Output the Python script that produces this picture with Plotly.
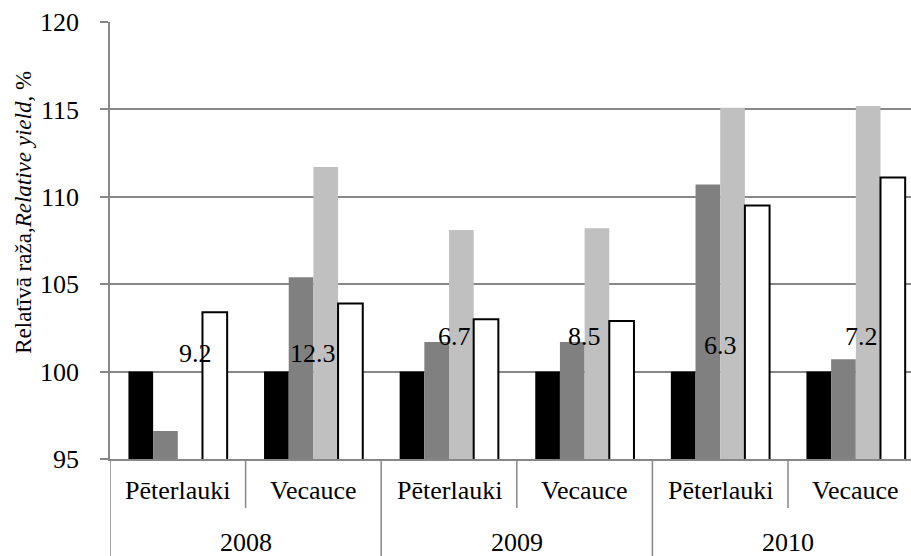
import plotly.graph_objects as go

# ---- data ----
sites = ["Pēterlauki", "Vecauce", "Pēterlauki", "Vecauce", "Pēterlauki", "Vecauce"]
years = ["2008", "2009", "2010"]
black_vals = [100, 100, 100, 100, 100, 100]
dark_vals = [96.6, 105.4, 101.7, 101.7, 110.7, 100.7]
light_vals = [None, 111.7, 108.1, 108.2, 115.1, 115.2]
white_vals = [103.4, 103.9, 103.0, 102.9, 109.5, 111.1]
lsd_labels = ["9.2", "12.3", "6.7", "8.5", "6.3", "7.2"]
y_ticks = [95, 100, 105, 110, 115, 120]

FONT = "Liberation Serif"
GRID = "#878787"

x = list(range(len(sites)))

fig = go.Figure()
fig.add_bar(x=x, y=black_vals, marker=dict(color="#000000", line=dict(width=0)))
fig.add_bar(x=x, y=dark_vals, marker=dict(color="#808080", line=dict(width=0)))
fig.add_bar(x=x, y=light_vals, marker=dict(color="#C0C0C0", line=dict(width=0)))
fig.add_bar(x=x, y=white_vals, marker=dict(color="#FFFFFF", line=dict(color="#000000", width=2)))

# label placement (layout only)
lbl_dx = [0.13, 0.0, 0.04, 0.0, 0.0, 0.04]
lbl_y = [101.05, 101.05, 102.0, 102.0, 101.5, 102.0]
annotations = []
for i, t in enumerate(lsd_labels):
    annotations.append(dict(x=x[i] + lbl_dx[i], y=lbl_y[i], xref="x", yref="y", text=t,
                            showarrow=False, font=dict(family=FONT, size=26, color="#000"),
                            xanchor="center", yanchor="middle"))

# category labels
for i, s in enumerate(sites):
    annotations.append(dict(x=x[i], y=-0.072, xref="x", yref="paper", text=s, showarrow=False,
                            font=dict(family=FONT, size=26, color="#000"),
                            xanchor="center", yanchor="middle"))
for j, yr in enumerate(years):
    annotations.append(dict(x=2 * j + 0.5, y=-0.19, xref="x", yref="paper", text=yr, showarrow=False,
                            font=dict(family=FONT, size=26, color="#000"),
                            xanchor="center", yanchor="middle"))

# y-axis title
annotations.append(dict(x=-0.109, y=0.565, xref="paper", yref="paper",
                        text="Relatīvā raža,<i>Relative yield</i>, %", textangle=-90,
                        showarrow=False, font=dict(family=FONT, size=23, color="#000"),
                        xanchor="center", yanchor="middle"))

shapes = []
# left axis extension
shapes.append(dict(type="line", xref="x", yref="paper", x0=-0.5, x1=-0.5, y0=0, y1=-0.23,
                   line=dict(color=GRID, width=1.5)))
for b in [0.5, 2.5, 4.5]:
    shapes.append(dict(type="line", xref="x", yref="paper", x0=b, x1=b, y0=0, y1=-0.112,
                       line=dict(color=GRID, width=1.5)))
for b in [1.5, 3.5]:
    shapes.append(dict(type="line", xref="x", yref="paper", x0=b, x1=b, y0=0, y1=-0.23,
                       line=dict(color=GRID, width=1.5)))

fig.update_layout(
    width=911, height=556,
    margin=dict(l=110, r=0, t=22, b=97),
    paper_bgcolor="white", plot_bgcolor="white",
    barmode="group", bargap=0.272, bargroupgap=0,
    showlegend=False,
    annotations=annotations, shapes=shapes,
    font=dict(family=FONT, size=26, color="#000"),
)
fig.update_xaxes(range=[-0.5, 5.407], showticklabels=False, ticks="", showgrid=False,
                 zeroline=False, showline=True, linecolor=GRID, linewidth=1.5)
fig.update_yaxes(range=[95, 120], tickvals=y_ticks, ticks="outside", ticklen=8, tickcolor=GRID,
                 tickwidth=1.5, showgrid=True, gridcolor=GRID, gridwidth=1.5, zeroline=False,
                 showline=True, linecolor=GRID, linewidth=1.5,
                 tickfont=dict(family=FONT, size=26, color="#000"), ticklabelstandoff=16)

fig.write_html("out.html", config={"displayModeBar": False},
               post_script="document.body.style.margin='0';")
